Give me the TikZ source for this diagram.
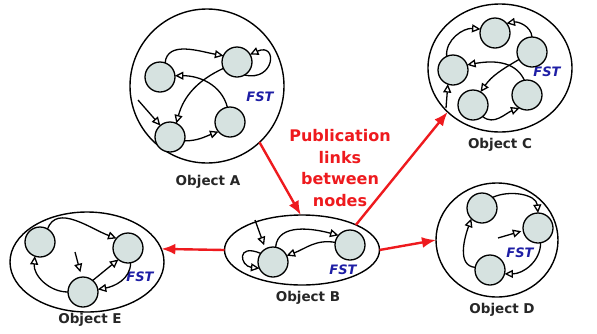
\documentclass[tikz,border=0pt]{standalone}
\usepackage{fontspec}
\setmainfont{DejaVu Sans}
\usepackage{tikz}
\usepackage{tkz-graph}
\usetikzlibrary{arrows.meta,shapes.geometric}
\definecolor{statefill}{RGB}{214,226,224}
\definecolor{linkred}{RGB}{238,26,30}
\definecolor{fstblue}{RGB}{30,30,165}

\begin{document}
\begin{tikzpicture}[x=1pt,y=1pt,
    object/.style={draw, ellipse, line width=1.4pt, inner sep=0pt, outer sep=0pt},
    trans/.style={line width=1.3pt, -{Triangle[open,length=8.5pt,width=8pt]}},
    link/.style={linkred, line width=2.4pt, -{Latex[length=14pt,width=11pt]}},
    objname/.style={font=\bfseries\fontsize{13.5}{15}\selectfont, text=black!85},
    fst/.style={font=\bfseries\itshape\fontsize{13}{14}\selectfont, text=fstblue}]
            \useasboundingbox (0,0) rectangle (597,-333);

            % the five objects
            \node[object, minimum width=154pt, minimum height=154pt] (objA) at (207,-86) {};
            \node[object, minimum width=155pt, minimum height=70pt] (objB) at (302,-250) {};
            \node[object, minimum width=144pt, minimum height=128pt] (objC) at (500,-68) {};
            \node[object, minimum width=122pt, minimum height=114pt] (objD) at (497,-240) {};
            \node[object, minimum width=154pt, minimum height=100pt] (objE) at (87,-262) {};

            \node[objname] (nameA) at (208,-182) {Object A};
            \node[objname] (nameB) at (308,-298) {Object B};
            \node[objname] (nameC) at (500,-145) {Object C};
            \node[objname] (nameD) at (502,-310) {Object D};
            \node[objname] (nameE) at (90,-320) {Object E};

            \node[fst] (fstA) at (260,-97) {FST};
            \node[fst] (fstB) at (343,-270) {FST};
            \node[fst] (fstC) at (547,-72) {FST};
            \node[fst] (fstD) at (520,-253) {FST};
            \node[fst] (fstE) at (140,-277) {FST};

            \GraphInit[vstyle=Normal];
            \SetVertexNormal[Shape=circle,FillColor=statefill,LineWidth=1.3pt,MinSize=30pt]
            \Vertex[x=160,y=-77,NoLabel]{a1};
            \Vertex[x=237,y=-62,NoLabel]{a2};
            \Vertex[x=230,y=-122,NoLabel]{a3};
            \Vertex[x=170,y=-137,NoLabel]{a4};

            \Vertex[x=273,y=-262,NoLabel]{b1};
            \Vertex[x=350,y=-245,NoLabel]{b2};

            \Vertex[x=495,y=-33,NoLabel]{c1};
            \Vertex[x=532,y=-52,NoLabel]{c2};
            \Vertex[x=453,y=-70,NoLabel]{c3};
            \Vertex[x=527,y=-95,NoLabel]{c4};
            \Vertex[x=473,y=-105,NoLabel]{c5};

            \Vertex[x=482,y=-208,NoLabel]{d1};
            \Vertex[x=538,y=-228,NoLabel]{d2};
            \Vertex[x=490,y=-270,NoLabel]{d3};

            \Vertex[x=40,y=-242,NoLabel]{e1};
            \Vertex[x=128,y=-248,NoLabel]{e2};
            \Vertex[x=83,y=-292,NoLabel]{e3};

            % start points of the entry arrows
            \coordinate (ainA) at (138,-100);
            \coordinate (ainB) at (255,-220);
            \coordinate (ainC) at (446,-108);
            \coordinate (ainD) at (498,-238);
            \coordinate (ainE) at (75,-252);

            % object A
            \draw[trans] (a1.70) to[out=85,in=170] (a2.155);
            \draw[trans] (a2.-60) .. controls (275,-82) and (278,-42) .. (a2.30);
            \draw[trans] (a3.100) to[out=105,in=0] (a1.5);
            \draw[trans] (a2.205) to[out=205,in=75] (a4.65);
            \draw[trans] (ainA) -- (a4.130);
            \draw[trans] (a4.-15) to[out=0,in=200] (a3.220);

            % object B
            \draw[trans,shorten >=4pt] (ainB) -- (b1.120);
            \draw[trans] (b1.80) to[out=85,in=165] (b2.140);
            \draw[trans] (b2.170) to[out=170,in=20] (b1.25);
            \draw[trans] (b1.145) .. controls (236,-243) and (240,-266) .. (b1.205);

            % object C
            \draw[trans] (c3.115) to[out=95,in=175] (c1.165);
            \draw[trans] (c2.north) to[out=95,in=10] (c1.40);
            \draw[trans] (c4.100) to[out=115,in=10] (c3.20);
            \draw[trans] (c2.210) to[out=210,in=55] (c5.60);
            \draw[trans] (ainC) -- (c3.-110);
            \draw[trans] (c5.-50) to[out=-40,in=200] (c4.-120);

            % object D
            \draw[trans] (d1.45) to[out=25,in=95] (d2.north);
            \draw[trans] (d3.170) to[out=175,in=-110] (d1.-135);
            \draw[trans] (d2.-80) to[out=-90,in=0] (d3.-15);
            \draw[trans,shorten >=2pt] (ainD) -- (d2.190);

            % object E
            \draw[trans] (e1.60) to[out=70,in=160] (e2.140);
            \draw[trans] (e3.180) to[out=180,in=-95] (e1.-110);
            \draw[trans] (e3.50) -- (e2.-130);
            \draw[trans,shorten >=5pt] (ainE) -- (e3.95);
            \draw[trans] (e2.-80) to[out=-90,in=10] (e3.10);

            % publication links
            \node[text=linkred, font=\bfseries\fontsize{16}{21.5}\selectfont, align=center] (pub) at (340,-168) {Publication\\links\\between\\nodes};
            \draw[link] (objA.-47) -- (objB.92);
            \draw[link] (objB.25) -- (objC.220);
            \draw[link] (objB.east) -- (objD.west);
            \draw[link] (objB.west) -- (objE.10);
\end{tikzpicture}
\end{document}
